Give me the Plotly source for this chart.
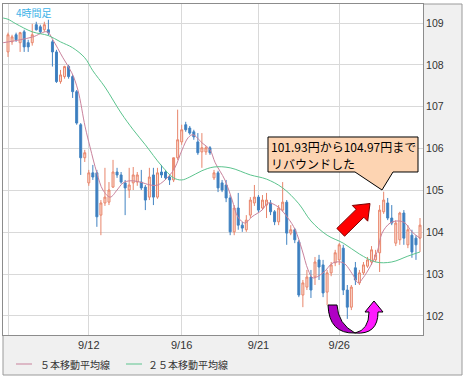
import plotly.graph_objects as go

# ---- data ----
opens = [108.31,108.55,108.72,108.53,108.79,108.53,108.53,108.96,108.91,108.84,
         108.84,108.55,108.31,107.60,107.72,107.96,107.72,107.36,106.57,105.78,
         105.18,105.42,105.42,104.41,104.70,104.72,105.08,105.44,105.37,105.18,
         105.01,105.18,105.20,105.20,105.08,104.84,105.37,104.84,105.44,105.44,
         105.32,105.25,105.78,106.16,106.57,106.49,106.40,106.16,105.92,105.92,
         106.02,105.30,105.42,105.18,105.13,104.82,104.01,104.58,104.17,104.06,
         104.41,104.70,104.84,104.58,104.65,104.70,104.49,104.25,104.53,104.72,
         103.98,104.06,103.77,102.50,102.69,102.93,102.93,103.34,103.22,102.57,
         103.03,103.27,103.34,103.62,102.62,102.21,103.15,102.79,103.03,103.19,
         103.29,103.34,103.51,104.49,104.70,104.34,103.74,103.82,104.46,103.70,
         103.93,103.86,103.86]
highs = [108.77,108.72,108.77,108.79,108.84,108.60,108.98,109.03,108.96,109.03,
         109.08,108.60,108.36,107.88,107.98,108.00,107.76,107.40,106.61,105.97,
         105.49,105.61,105.49,104.77,105.54,105.20,105.73,105.54,105.44,105.25,
         105.54,105.56,105.44,105.49,105.13,105.54,105.54,105.54,105.61,105.49,
         105.37,105.49,106.93,106.57,106.64,106.54,106.45,106.37,106.37,106.06,
         106.06,105.49,105.47,105.25,105.25,104.89,104.65,104.94,104.25,104.41,
         104.84,105.13,104.89,104.89,104.94,104.77,104.53,104.65,105.20,104.77,
         104.17,104.10,103.82,102.86,103.10,103.10,103.41,103.46,103.34,103.10,
         103.29,103.58,103.74,103.70,102.74,102.74,103.29,103.10,103.29,103.41,
         103.67,103.58,104.65,104.97,104.82,104.65,104.29,104.49,104.53,104.17,
         104.06,103.93,104.34]
lows = [108.19,108.48,108.55,108.31,108.31,108.31,108.46,108.82,108.74,108.79,
        108.70,107.96,107.57,107.55,107.67,107.67,107.21,106.57,105.37,105.68,
        105.11,105.25,104.13,103.93,104.63,104.65,105.06,105.30,105.16,104.41,
        104.82,105.01,105.11,105.01,104.53,104.77,104.65,104.80,105.30,105.25,
        105.13,105.20,105.73,106.09,106.40,106.33,106.21,105.85,105.54,105.85,
        105.85,105.25,104.96,104.96,104.72,103.93,103.93,104.06,104.01,104.01,
        104.34,104.63,104.46,104.53,104.34,104.41,104.17,104.17,104.49,103.70,
        103.93,103.74,102.45,102.21,102.62,102.43,102.74,102.86,102.45,102.26,
        102.95,103.19,103.22,102.50,101.93,102.14,102.74,102.74,102.98,103.15,
        103.22,103.29,103.05,104.44,104.29,104.17,103.67,103.70,103.70,103.62,
        103.39,103.34,103.53]
closes = [108.72,108.67,108.60,108.77,108.43,108.43,108.72,108.84,108.79,108.96,
          108.77,108.31,107.60,107.76,107.96,107.72,107.36,106.61,105.78,105.90,
          105.42,105.32,104.37,104.70,104.84,105.01,105.44,105.37,105.20,105.06,
          105.13,105.37,105.37,105.06,104.77,105.32,104.84,105.42,105.37,105.30,
          105.25,105.78,106.21,106.45,106.45,106.37,106.28,105.90,106.02,106.02,
          105.90,105.42,105.06,105.01,104.82,104.01,104.58,104.17,104.10,104.29,
          104.77,104.84,104.53,104.77,104.77,104.49,104.25,104.58,104.72,103.98,
          104.06,103.82,102.50,102.79,102.93,102.62,103.29,103.17,102.55,103.03,
          103.22,103.51,103.70,102.62,102.21,102.69,102.86,103.03,103.22,103.34,
          103.58,103.46,104.53,104.77,104.34,104.22,104.22,104.46,103.86,104.06,
          103.53,103.70,104.17]
bars = list(range(len(closes)))

# moving averages (bar index, price)
ma5_x = [-1.2,3.0,6.2,9.7,11.1,13.6,15.8,17.3,19.1,20.3,22.0,23.5,25.3,27.0,28.5,30.2,
         32.7,35.2,37.1,39.6,41.3,43.1,44.6,45.8,48.0,50.0,51.3,53.7,55.5,56.9,58.7,
         60.4,62.9,64.4,66.8,69.3,71.1,72.8,74.3,75.5,78.0,80.5,83.0,85.4,86.7,87.9,
         89.6,91.4,92.6,94.6,96.6,98.3,100.0,102.0]
ma5_y = [108.53,108.60,108.67,108.79,108.60,108.17,107.81,107.40,106.52,106.04,105.42,
         105.01,104.84,105.01,105.18,105.23,105.20,105.13,105.13,105.32,105.54,105.97,
         106.26,106.33,106.14,105.97,105.66,105.25,104.77,104.37,104.22,104.37,104.53,
         104.70,104.61,104.34,104.06,103.58,103.10,102.91,103.03,103.27,103.27,102.98,
         102.79,102.91,103.17,103.53,103.98,104.22,104.27,104.22,104.01,103.86]
ma25_x = [-1.2,0,2,6,10,13,16,19,21,24,28,31,34,38,41,43,45,48,51,55,60,64,68,72,75,
          79,83,87,91,95,99,102]
ma25_y = [109.12,109.09,108.98,108.79,108.70,108.55,108.41,108.17,107.86,107.47,106.85,
          106.45,106.09,105.59,105.30,105.25,105.32,105.47,105.56,105.54,105.37,105.27,
          105.06,104.68,104.27,103.93,103.74,103.48,103.29,103.29,103.43,103.53]

tick_pos = [0, 20, 43, 62, 82]
tick_text = ["", "9/12", "9/16", "9/21", "9/26"]
price_ticks = [102, 103, 104, 105, 106, 107, 108, 109]

legend_names = ["５本移動平均線", "２５本移動平均線"]
ma_colors = ["#c9829c", "#5cc48e"]
note_lines = ["101.93円から104.97円まで", "リバウンドした"]
frame_label = "4時間足"

W, H = 466, 379
L, R, T, B = 3, 43, 4, 44
PW, PH = W - L - R, H - T - B


def px(x):
    return (x - L) / PW


def py(y):
    return (H - B - y) / PH


fig = go.Figure()
fig.add_trace(go.Candlestick(
    x=bars, open=opens, high=highs, low=lows, close=closes,
    increasing=dict(line=dict(color="#e8856b", width=1), fillcolor="#fbdcd0"),
    decreasing=dict(line=dict(color="#4183c2", width=1), fillcolor="#3b7cbd"),
    whiskerwidth=0, showlegend=False, hoverinfo="skip"))
fig.add_trace(go.Scatter(x=ma5_x, y=ma5_y, mode="lines", line=dict(color=ma_colors[0], width=1, shape="spline"),
                         showlegend=False, hoverinfo="skip"))
fig.add_trace(go.Scatter(x=ma25_x, y=ma25_y, mode="lines", line=dict(color=ma_colors[1], width=1, shape="spline"),
                         showlegend=False, hoverinfo="skip"))

shapes = []
# outer grey panel, then white plotting area over it
shapes.append(dict(type="rect", xref="paper", yref="paper", x0=0, x1=px(462), y0=py(375), y1=1,
                   fillcolor="#f0f0f0", line=dict(color="#9a9a9a", width=1), layer="below"))
shapes.append(dict(type="rect", xref="paper", yref="paper", x0=0, x1=1, y0=0, y1=1,
                   fillcolor="#ffffff", line=dict(width=0), layer="below"))


def path_from(points):
    return "M " + " L ".join(f"{px(a):.5f},{py(b):.5f}" for a, b in points) + " Z"


# callout box
callout = [(268, 137), (418, 137), (418, 172), (393, 172), (382, 190), (355, 172), (268, 172)]
shapes.append(dict(type="path", xref="paper", yref="paper", path=path_from(callout),
                   fillcolor="#fdd4b2", line=dict(color="#000000", width=1), layer="above"))

# red block arrow
tip = (370.0, 203.5)
tail = (340.7, 232.3)
dx, dy = tip[0] - tail[0], tip[1] - tail[1]
ln = (dx * dx + dy * dy) ** 0.5
ux, uy = dx / ln, dy / ln
nx, ny = -uy, ux
hl, hw, sw = 14, 11, 5.5
bx, by = tip[0] - hl * ux, tip[1] - hl * uy
arrow = [tip,
         (bx + hw * nx, by + hw * ny), (bx + sw * nx, by + sw * ny),
         (tail[0] + sw * nx, tail[1] + sw * ny), (tail[0] - sw * nx, tail[1] - sw * ny),
         (bx - sw * nx, by - sw * ny), (bx - hw * nx, by - hw * ny)]
shapes.append(dict(type="path", xref="paper", yref="paper", path=path_from(arrow),
                   fillcolor="#ff0000", line=dict(color="#7a0000", width=1), layer="above"))


def q(a, b):
    return f"{px(a):.5f},{py(b):.5f}"


# magenta U-turn arrow (two halves)
left_horn = (f"M {q(328,305)} Q {q(329,334)} {q(355,333)} Q {q(338,324)} {q(337,305)} Z")
shapes.append(dict(type="path", xref="paper", yref="paper", path=left_horn,
                   fillcolor="#b000c4", line=dict(color="#000000", width=1), layer="above"))
right_horn = (f"M {q(355,333)} Q {q(369,330)} {q(369,312)} L {q(365,312)} L {q(374,301)} "
              f"L {q(383,312)} L {q(378,312)} Q {q(378,335)} {q(355,333)} Z")
shapes.append(dict(type="path", xref="paper", yref="paper", path=right_horn,
                   fillcolor="#ff1aff", line=dict(color="#000000", width=1), layer="above"))

# manual legend line samples
shapes.append(dict(type="line", xref="paper", yref="paper", x0=px(16), x1=px(32), y0=py(364), y1=py(364),
                   line=dict(color=ma_colors[0], width=1)))
shapes.append(dict(type="line", xref="paper", yref="paper", x0=px(126), x1=px(142), y0=py(364), y1=py(364),
                   line=dict(color=ma_colors[1], width=1)))

cjk = "Noto Sans CJK JP"
annotations = [
    dict(text=frame_label, xref="paper", yref="paper", x=px(14), y=py(12.5), xanchor="left", yanchor="middle",
         showarrow=False, font=dict(family=cjk, size=10, color="#3db3e8")),
    dict(text=legend_names[0], xref="paper", yref="paper", x=px(38), y=py(364), xanchor="left", yanchor="middle",
         showarrow=False, font=dict(family=cjk, size=10, color="#333333")),
    dict(text=legend_names[1], xref="paper", yref="paper", x=px(146), y=py(364), xanchor="left", yanchor="middle",
         showarrow=False, font=dict(family=cjk, size=10, color="#333333")),
    dict(text=note_lines[0], xref="paper", yref="paper", x=px(269), y=py(147), xanchor="left", yanchor="middle",
         showarrow=False, font=dict(family=cjk, size=12, color="#000000")),
    dict(text=note_lines[1], xref="paper", yref="paper", x=px(269), y=py(163), xanchor="left", yanchor="middle",
         showarrow=False, font=dict(family=cjk, size=12, color="#000000")),
]

fig.update_layout(
    width=W, height=H, margin=dict(l=L, r=R, t=T, b=B, pad=0),
    paper_bgcolor="#ffffff", plot_bgcolor="#ffffff",
    shapes=shapes, annotations=annotations, showlegend=False,
    font=dict(family="Liberation Sans, Arial", size=11, color="#333333"),
    xaxis=dict(range=[-1.238, 102.74], tickmode="array", tickvals=tick_pos, ticktext=tick_text,
               showgrid=True, gridcolor="#d9d9d9", gridwidth=1, zeroline=False,
               showline=True, linecolor="#8c8c8c", mirror=True, ticks="",
               rangeslider=dict(visible=False), tickfont=dict(size=11, color="#333333")),
    yaxis=dict(range=[101.545, 109.455], side="right", tickmode="array", tickvals=price_ticks,
               showgrid=True, gridcolor="#d9d9d9", gridwidth=1, zeroline=False,
               showline=True, linecolor="#8c8c8c", mirror=True, ticks="",
               tickfont=dict(size=10.5, color="#333333")),
)

fig.write_html("out.html", config={"displayModeBar": False},
               post_script="document.body.style.margin='0px';document.body.style.padding='0px';")
